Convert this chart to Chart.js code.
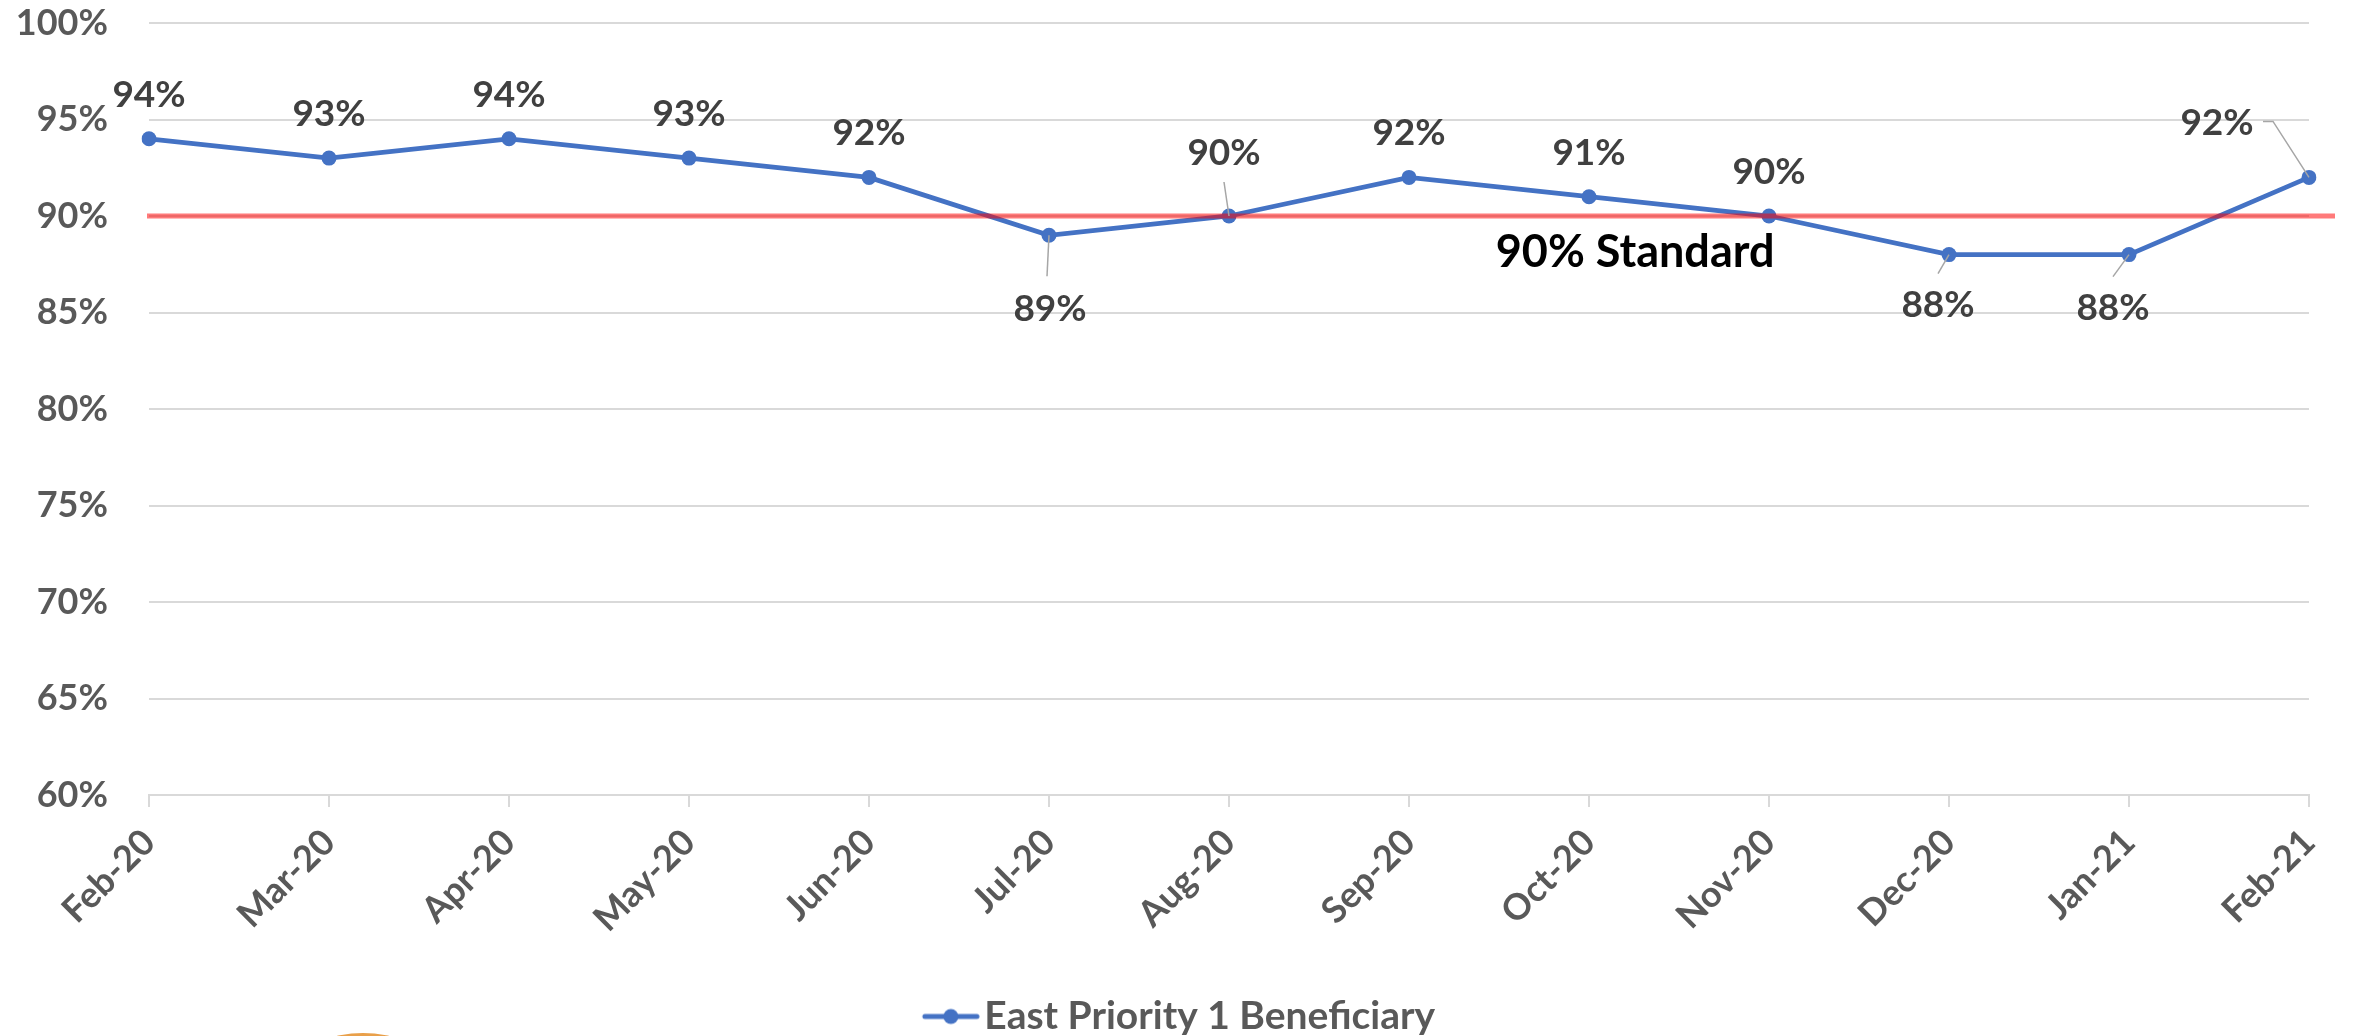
<!DOCTYPE html>
<html>
<head>
<meta charset="utf-8">
<script src="https://cdn.jsdelivr.net/npm/chart.js@4"></script>
<style>
  html, body { margin: 0; padding: 0; background: #ffffff; }
  #wrap { width: 2356px; height: 1036px; position: relative; }
</style>
</head>
<body>
<div id="wrap"><canvas id="c"></canvas></div>
<script>
// ---- data ----
const categories = ['Feb-20','Mar-20','Apr-20','May-20','Jun-20','Jul-20','Aug-20','Sep-20','Oct-20','Nov-20','Dec-20','Jan-21','Feb-21'];
const seriesValues = [94, 93, 94, 93, 92, 89, 90, 92, 91, 90, 88, 88, 92];
const seriesName = 'East Priority 1 Beneficiary';
const yTickValues = [60, 65, 70, 75, 80, 85, 90, 95, 100];
const standardValue = 90;
const standardLabel = '90% Standard';

// ---- label placement (pixel offsets of data-label centres from their points) ----
const labelOffsets = [
  [0,-44],[0,-44],[0,-44],[0,-44],[0,-44],
  [1,74],[-5,-63],[0,-44],[0,-44],[0,-44],
  [-11,50],[-16,53],[-92,-54]
];
// leader lines: label-side anchor offsets relative to point (null = none)
const leaderLines = [
  null,null,null,null,null,
  [[-2,41]],[[-5,-34]],null,null,null,
  [[-11,19]],[[-16,22]],[[-46,-56],[-36,-56]]
];

const FONT = 'Lato, "Open Sans", sans-serif';

// legend marker image (marker drawn right of the image centre)
const mk = document.createElement('canvas');
mk.width = 74; mk.height = 18;
(function(){
  const g = mk.getContext('2d');
  g.strokeStyle = '#4472C4'; g.lineWidth = 5; g.lineCap = 'round';
  g.beginPath(); g.moveTo(19, 9); g.lineTo(71, 9); g.stroke();
  g.fillStyle = '#4472C4';
  g.beginPath(); g.arc(45, 9, 7.5, 0, Math.PI*2); g.fill();
})();

const standardPlugin = {
  id: 'standardLine',
  afterDatasetsDraw(chart) {
    const {ctx, chartArea, scales} = chart;
    const y = scales.y.getPixelForValue(standardValue);
    ctx.save();
    ctx.strokeStyle = 'rgba(255,0,0,0.52)';
    ctx.lineWidth = 5;
    ctx.beginPath();
    ctx.moveTo(chartArea.left - 2, y);
    ctx.lineTo(chartArea.right + 26, y);
    ctx.stroke();
    // annotation text
    ctx.fillStyle = '#000000';
    ctx.font = 'bold 45px ' + FONT;
    ctx.textAlign = 'center';
    ctx.textBaseline = 'middle';
    const x = chartArea.left + (chartArea.right - chartArea.left) * 0.688;
    ctx.fillText(standardLabel, x, y + 36);
    ctx.restore();
  }
};

const labelPlugin = {
  id: 'dataLabels',
  afterDatasetsDraw(chart) {
    const {ctx} = chart;
    const meta = chart.getDatasetMeta(0);
    ctx.save();
    meta.data.forEach((pt, i) => {
      const px = pt.x, py = pt.y;
      const ll = leaderLines[i];
      if (ll) {
        ctx.strokeStyle = '#A6A6A6';
        ctx.lineWidth = 1.5;
        ctx.beginPath();
        ctx.moveTo(px + ll[0][0], py + ll[0][1]);
        for (let k = 1; k < ll.length; k++) ctx.lineTo(px + ll[k][0], py + ll[k][1]);
        ctx.lineTo(px, py);
        ctx.stroke();
      }
      const off = labelOffsets[i];
      ctx.fillStyle = '#404040';
      ctx.font = 'bold 37px ' + FONT;
      ctx.textAlign = 'center';
      ctx.textBaseline = 'middle';
      ctx.fillText(seriesValues[i] + '%', px + off[0], py + off[1]);
    });
    ctx.restore();
  }
};

const legendShiftPlugin = {
  id: 'legendShift',
  afterLayout(chart) {
    if (chart.legend) { chart.legend.top += 10; chart.legend.bottom += 10; }
  }
};

const decoPlugin = {
  id: 'deco',
  afterDraw(chart) {
    const {ctx} = chart;
    ctx.save();
    ctx.fillStyle = '#E9A04A';
    ctx.beginPath();
    ctx.arc(363, 1151, 118, 0, Math.PI * 2);
    ctx.fill();
    ctx.restore();
  }
};

new Chart(document.getElementById('c'), {
  type: 'line',
  data: {
    labels: categories,
    datasets: [{
      label: seriesName,
      data: seriesValues,
      borderColor: '#4472C4',
      backgroundColor: '#4472C4',
      borderWidth: 4.8,
      pointRadius: 7.5,
      pointHoverRadius: 7.5,
      pointBackgroundColor: '#4472C4',
      pointBorderWidth: 0,
      pointStyle: 'circle',
      tension: 0
    }]
  },
  options: {
    responsive: true,
    maintainAspectRatio: false,
    animation: false,
    events: [],
    layout: { padding: { top: 23, right: 0, left: 0, bottom: 0 } },
    plugins: {
      tooltip: { enabled: false },
      legend: {
        position: 'bottom',
        labels: {
          color: '#595959',
          font: { family: FONT, size: 39, weight: 'bold' },
          usePointStyle: true,
          pointStyleWidth: 44,
          padding: 0,
          generateLabels(chart) {
            return [{ text: seriesName, pointStyle: mk, fillStyle: '#4472C4', strokeStyle: '#4472C4', lineWidth: 0, datasetIndex: 0, fontColor: '#595959' }];
          }
        }
      }
    },
    scales: {
      x: {
        type: 'category',
        offset: false,
        grid: { drawOnChartArea: false, drawTicks: true, tickLength: 12, color: '#D9D9D9', lineWidth: 2 },
        border: { display: true, color: '#D9D9D9', width: 2 },
        ticks: {
          color: '#595959',
          font: { family: FONT, size: 36, weight: 'bold' },
          minRotation: 45, maxRotation: 45,
          padding: 14,
          autoSkip: false
        },
        afterFit(s) { s.height = 192; s.paddingRight = 47; s.paddingLeft = 0; }
      },
      y: {
        min: 60, max: 100,
        afterBuildTicks(s) { s.ticks = yTickValues.map(v => ({ value: v })); },
        grid: { drawTicks: false, color: '#D9D9D9', lineWidth: 2 },
        border: { display: false },
        ticks: {
          color: '#595959',
          font: { family: FONT, size: 36, weight: 'bold' },
          padding: 41,
          callback: (v) => v + '%'
        },
        afterFit(s) { s.width = 149; s.paddingTop = 0; s.paddingBottom = 0; }
      }
    }
  },
  plugins: [standardPlugin, labelPlugin, legendShiftPlugin, decoPlugin]
});
</script>
</body>
</html>
